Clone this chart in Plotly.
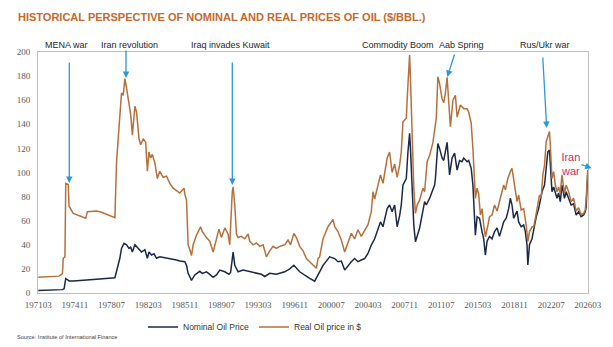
import plotly.graph_objects as go

# ---------------- data ----------------
real_points = [
    ("1971-03", 13), ("1972-03", 13.5), ("1973-04", 14), ("1973-08", 16), ("1973-09", 28.8),
    ("1973-11", 30), ("1973-12", 91), ("1974-03", 90), ("1974-04", 72), ("1974-09", 66),
    ("1975-09", 63.3), ("1975-12", 62), ("1976-02", 67.5), ("1977-01", 68), ("1977-07", 67),
    ("1978-05", 64), ("1978-11", 62.5), ("1979-01", 109), ("1979-04", 137), ("1979-06", 157),
    ("1979-07", 166), ("1979-09", 164), ("1979-11", 178), ("1980-01", 170), ("1980-04", 155),
    ("1980-06", 148), ("1980-08", 131), ("1980-11", 155), ("1981-01", 150), ("1981-04", 128),
    ("1981-06", 123), ("1981-09", 128), ("1981-12", 125), ("1982-02", 101), ("1982-04", 117),
    ("1982-06", 112), ("1982-08", 115), ("1982-11", 108), ("1983-02", 95), ("1983-05", 101),
    ("1983-09", 96), ("1984-01", 97), ("1984-05", 91), ("1984-09", 87), ("1985-01", 85),
    ("1985-05", 83), ("1985-10", 87), ("1985-11", 82), ("1986-01", 77), ("1986-03", 40),
    ("1986-06", 34), ("1986-07", 31), ("1986-09", 40), ("1987-01", 48), ("1987-06", 55),
    ("1987-08", 51), ("1988-01", 46), ("1988-05", 43), ("1988-09", 34), ("1989-01", 46),
    ("1989-04", 53), ("1989-07", 46), ("1989-11", 54), ("1990-03", 49), ("1990-05", 40),
    ("1990-08", 84), ("1990-09", 88), ("1990-11", 73), ("1991-01", 49), ("1991-03", 46),
    ("1991-07", 47), ("1991-11", 45), ("1992-03", 49), ("1992-05", 43), ("1992-09", 40),
    ("1993-01", 41.5), ("1993-05", 38.7), ("1993-09", 40), ("1994-01", 30), ("1994-05", 35),
    ("1994-09", 38.7), ("1995-01", 37), ("1995-05", 38.7), ("1995-11", 40), ("1996-03", 44),
    ("1996-06", 40), ("1996-10", 49.5), ("1997-01", 46), ("1997-05", 38.7), ("1997-09", 35),
    ("1998-01", 28.5), ("1998-05", 26), ("1998-09", 23), ("1999-01", 20.5), ("1999-03", 28.5),
    ("1999-05", 30), ("1999-09", 45), ("2000-03", 55), ("2000-09", 61), ("2000-11", 55),
    ("2001-03", 51), ("2001-07", 44), ("2001-11", 34), ("2002-03", 42), ("2002-07", 49.5),
    ("2002-11", 45), ("2003-03", 52.5), ("2003-07", 47), ("2003-11", 52.5), ("2004-03", 56.7),
    ("2004-07", 67.5), ("2004-09", 84), ("2004-11", 78), ("2005-03", 89.6), ("2005-06", 98),
    ("2005-09", 91), ("2005-11", 100.5), ("2006-02", 112), ("2006-05", 117), ("2006-08", 100),
    ("2006-11", 107), ("2007-02", 96), ("2007-05", 106), ("2007-07", 117), ("2007-09", 142),
    ("2008-01", 145), ("2008-03", 172.6), ("2008-05", 197.5), ("2008-06", 178), ("2008-08", 136.7),
    ("2008-10", 87), ("2008-12", 66), ("2009-02", 73), ("2009-05", 77), ("2009-09", 87),
    ("2009-11", 84), ("2010-02", 109), ("2010-05", 114), ("2010-09", 125), ("2011-01", 145),
    ("2011-03", 179.5), ("2011-05", 174), ("2011-08", 161), ("2011-10", 158), ("2011-12", 166),
    ("2012-02", 179), ("2012-04", 161), ("2012-06", 138), ("2012-09", 160), ("2012-12", 164),
    ("2013-02", 146), ("2013-06", 156), ("2013-10", 153), ("2014-02", 153), ("2014-04", 150),
    ("2014-07", 141), ("2014-09", 120), ("2014-10", 100.7), ("2014-12", 78.6), ("2015-02", 87),
    ("2015-04", 82), ("2015-06", 64.7), ("2015-08", 70), ("2015-10", 56.4), ("2015-12", 46.7),
    ("2016-03", 56), ("2016-05", 63.3), ("2016-08", 64.7), ("2016-11", 73), ("2017-02", 68),
    ("2017-05", 75.8), ("2017-08", 82.7), ("2017-10", 89.6), ("2017-12", 85.6), ("2018-03", 95),
    ("2018-06", 100.7), ("2018-08", 103.5), ("2018-11", 89.6), ("2019-02", 75.8), ("2019-04", 81.3),
    ("2019-07", 68.9), ("2019-10", 70), ("2020-01", 56.4), ("2020-03", 42.6), ("2020-05", 51),
    ("2020-08", 55), ("2020-10", 55), ("2020-12", 62), ("2021-03", 73), ("2021-05", 81.3),
    ("2021-07", 78.6), ("2021-09", 98), ("2021-11", 106), ("2022-01", 125.6), ("2022-03", 129.6),
    ("2022-05", 134), ("2022-06", 123), ("2022-08", 95), ("2022-10", 100.7), ("2022-12", 89.6),
    ("2023-02", 84), ("2023-04", 88), ("2023-06", 82.7), ("2023-08", 98), ("2023-11", 82.7),
    ("2024-01", 89.6), ("2024-04", 84), ("2024-07", 75.8), ("2024-10", 78.6), ("2025-01", 68),
    ("2025-04", 70.7), ("2025-07", 65), ("2025-10", 66), ("2025-12", 69), ("2026-01", 78),
    ("2026-02", 100.7), ("2026-03", 102),
]

nominal_points = [
    ("1971-03", 2), ("1973-04", 2.3), ("1973-08", 2.8), ("1973-10", 3.5), ("1973-12", 12),
    ("1974-02", 11), ("1974-04", 10), ("1974-09", 10), ("1975-12", 10.5), ("1977-01", 11.5),
    ("1978-11", 12.7), ("1979-02", 20.4), ("1979-05", 28.8), ("1979-07", 37), ("1979-10", 41.2),
    ("1980-01", 40), ("1980-04", 37), ("1980-06", 38), ("1980-08", 34), ("1980-11", 40),
    ("1981-03", 37), ("1981-07", 34), ("1981-11", 36), ("1982-02", 28.8), ("1982-04", 34),
    ("1982-07", 31.5), ("1982-10", 32.5), ("1983-01", 28.8), ("1983-05", 30), ("1983-09", 29.5),
    ("1984-01", 29), ("1984-05", 28.8), ("1984-09", 27.8), ("1985-01", 27.4), ("1985-05", 26.5),
    ("1985-11", 26), ("1986-01", 23), ("1986-03", 16.3), ("1986-06", 12), ("1986-07", 10.5),
    ("1986-11", 15), ("1987-05", 18), ("1987-08", 16.3), ("1988-01", 17.6), ("1988-05", 15.5),
    ("1988-09", 13), ("1989-01", 15), ("1989-05", 19), ("1989-11", 17.6), ("1990-04", 15.5),
    ("1990-06", 17), ("1990-08", 28), ("1990-09", 34), ("1990-11", 23), ("1991-03", 17.6),
    ("1991-09", 19), ("1992-05", 17.6), ("1993-01", 16.3), ("1993-07", 15.5), ("1993-11", 13.7),
    ("1994-05", 16.3), ("1995-01", 15.5), ("1995-11", 17.6), ("1996-05", 20), ("1996-10", 23),
    ("1997-05", 17.6), ("1998-01", 13.7), ("1998-05", 12.2), ("1998-11", 9.8), ("1999-03", 15),
    ("1999-09", 23), ("2000-05", 30), ("2000-11", 28.6), ("2001-03", 26), ("2001-07", 26.5),
    ("2001-11", 19), ("2002-03", 23), ("2002-07", 26), ("2002-11", 28.6), ("2003-03", 26),
    ("2003-07", 27.4), ("2003-11", 28.6), ("2004-03", 32.8), ("2004-07", 39.8), ("2004-11", 45),
    ("2005-03", 53.7), ("2005-06", 59), ("2005-09", 55), ("2005-11", 62), ("2006-02", 70),
    ("2006-05", 73), ("2006-08", 67.5), ("2006-11", 73), ("2007-02", 55), ("2007-05", 64),
    ("2007-07", 73), ("2007-09", 89.6), ("2008-01", 95), ("2008-03", 117), ("2008-05", 132.5),
    ("2008-06", 120), ("2008-08", 89.6), ("2008-10", 56.4), ("2008-12", 42.6), ("2009-02", 46.7),
    ("2009-05", 53.7), ("2009-11", 75.8), ("2010-01", 73), ("2010-05", 78.5), ("2010-11", 89.6),
    ("2010-12", 95), ("2011-02", 117), ("2011-03", 124), ("2011-05", 120), ("2011-08", 112),
    ("2011-10", 110), ("2011-12", 117), ("2012-02", 125), ("2012-05", 98), ("2012-08", 112),
    ("2012-11", 116), ("2013-02", 102), ("2013-05", 110), ("2013-08", 109), ("2013-10", 112),
    ("2014-02", 109), ("2014-04", 110), ("2014-07", 103.5), ("2014-09", 89.6), ("2014-10", 73),
    ("2014-12", 48), ("2015-02", 63.3), ("2015-05", 62), ("2015-08", 51), ("2015-10", 45),
    ("2015-12", 31.5), ("2016-02", 43), ("2016-05", 47), ("2016-08", 45), ("2016-11", 51),
    ("2017-02", 54), ("2017-05", 47), ("2017-08", 55), ("2017-10", 59), ("2018-01", 62),
    ("2018-04", 70), ("2018-06", 78.6), ("2018-08", 73), ("2018-10", 62), ("2019-02", 68),
    ("2019-04", 59), ("2019-07", 55), ("2019-10", 56.4), ("2019-12", 51), ("2020-02", 39.8),
    ("2020-03", 23.2), ("2020-05", 40), ("2020-08", 45), ("2020-11", 56), ("2021-01", 63),
    ("2021-04", 70), ("2021-06", 78.6), ("2021-08", 84), ("2021-11", 89.6), ("2022-01", 106),
    ("2022-03", 117), ("2022-05", 118.6), ("2022-06", 103.5), ("2022-08", 84), ("2022-10", 88),
    ("2022-12", 82.7), ("2023-02", 78.6), ("2023-04", 83), ("2023-06", 75.8), ("2023-08", 89.6),
    ("2023-11", 78.6), ("2024-01", 84), ("2024-04", 78.6), ("2024-07", 73), ("2024-10", 74),
    ("2025-01", 64.7), ("2025-04", 67.5), ("2025-07", 63.3), ("2025-10", 64.7), ("2025-12", 67.5),
    ("2026-01", 71), ("2026-02", 90), ("2026-03", 100),
]

x_tick_labels = ["197103", "197411", "197807", "198203", "198511", "198907", "199303", "199611",
                 "200007", "200403", "200711", "201107", "201503", "201811", "202207", "202603"]
y_ticks = [0, 20, 40, 60, 80, 100, 120, 140, 160, 180, 200]

event_labels = ["MENA war", "Iran revolution", "Iraq invades Kuwait", "Commodity Boom",
                "Aab Spring", "Rus/Ukr war"]

series_names = ["Nominal Oil Price", "Real Oil price in $"]

# ---------------- helpers ----------------
nom_dates = [d + "-01" for d, _ in nominal_points]
nom_vals = [v for _, v in nominal_points]
real_dates = [d + "-01" for d, _ in real_points]
real_vals = [v for _, v in real_points]
tick_vals = [f"{t[:4]}-{t[4:]}-01" for t in x_tick_labels]

NAVY = "#1C2848"
BROWN = "#B5713D"
ARROW = "#2A98DA"

fig = go.Figure()
fig.add_trace(go.Scatter(x=nom_dates, y=nom_vals, mode="lines", name=series_names[0],
                         line=dict(color=NAVY, width=1.5)))
fig.add_trace(go.Scatter(x=real_dates, y=real_vals, mode="lines", name=series_names[1],
                         line=dict(color=BROWN, width=1.5)))

W, H = 613, 347
ML, MR, MT, MB = 38, 25, 52, 54
PW, PH = W - ML - MR, H - MT - MB


def px(xp):
    return (xp - ML) / PW


def py(yp):
    return (H - MB - yp) / PH


annots = []
label_pos = [66.5, 129, 230, 398, 461, 545]
for txt, xc in zip(event_labels, label_pos):
    annots.append(dict(text=txt, x=px(xc), y=py(45), xref="paper", yref="paper",
                       showarrow=False, xanchor="center", yanchor="middle",
                       font=dict(family="Liberation Sans, Arial", size=9, color="#262626")))

arrows = [((69.3, 183), (69.3, 61)), ((126, 78), (126, 49)), ((232.3, 185), (232.3, 61)),
          ((447.3, 77), (455, 53)), ((546.7, 128), (542.7, 56)), ((591.7, 168.3), (580, 164))]
for (hx, hy), (tx, ty) in arrows:
    annots.append(dict(x=px(hx), y=py(hy), xref="paper", yref="paper", text="",
                       showarrow=True, arrowhead=2, arrowsize=1, arrowwidth=1.3,
                       arrowcolor=ARROW, ax=tx - hx, ay=ty - hy))

annots.append(dict(text="Iran<br>war", x=px(570), y=py(164), xref="paper", yref="paper",
                   showarrow=False, xanchor="center", yanchor="middle", align="center",
                   font=dict(family="Liberation Sans, Arial", size=11, color="#D02A6A")))

annots.append(dict(text="Source: Institute of International Finance", x=px(15), y=py(337),
                   xref="paper", yref="paper", showarrow=False, xanchor="left", yanchor="middle",
                   font=dict(family="Liberation Sans, Arial", size=5.6, color="#404040")))

fig.update_layout(
    width=W, height=H,
    margin=dict(l=ML, r=MR, t=MT, b=MB, pad=0, autoexpand=False),
    paper_bgcolor="white", plot_bgcolor="white",
    title=dict(text="HISTORICAL PERSPECTIVE OF NOMINAL AND REAL PRICES OF OIL ($/BBL.)",
               x=18 / W, xanchor="left", xref="container",
               y=1 - 16.7 / H, yanchor="middle", yref="container",
               font=dict(family="Liberation Sans, Arial", size=11,
                         color="#C46A2E", weight="bold")),
    showlegend=True,
    legend=dict(orientation="h", xref="container", yref="container",
                x=143 / W, y=1 - 327 / H, xanchor="left", yanchor="middle",
                font=dict(family="Liberation Sans, Arial", size=8.5, color="#333333"),
                bgcolor="rgba(0,0,0,0)", entrywidth=66, entrywidthmode="pixels",
                itemwidth=30),
    annotations=annots,
    xaxis=dict(type="date", range=["1971-02-20", "2026-03-10"], tickvals=tick_vals,
               ticktext=x_tick_labels, showgrid=False, zeroline=False,
               showline=True, linecolor="#BFBFBF", linewidth=1, mirror=True, ticks="",
               ticklabelstandoff=3,
               tickfont=dict(family="Liberation Serif, DejaVu Serif", size=9, color="#595959")),
    yaxis=dict(range=[0, 200], tickvals=y_ticks, showgrid=False, zeroline=False,
               showline=True, linecolor="#BFBFBF", linewidth=1, mirror=True, ticks="",
               ticklabelstandoff=5,
               tickfont=dict(family="Liberation Serif, DejaVu Serif", size=9, color="#595959")),
)

fig.write_html("out.html")
